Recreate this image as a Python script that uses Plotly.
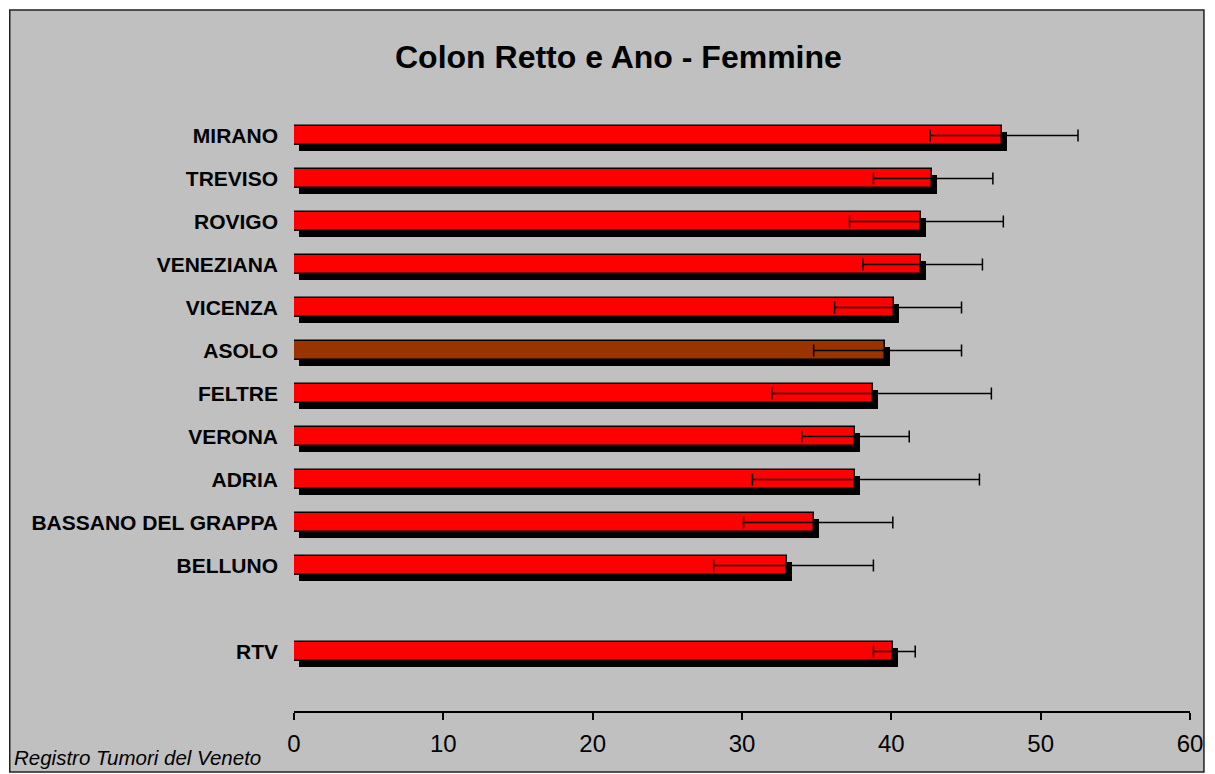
import plotly.graph_objects as go

categories = ["MIRANO", "TREVISO", "ROVIGO", "VENEZIANA", "VICENZA", "ASOLO",
              "FELTRE", "VERONA", "ADRIA", "BASSANO DEL GRAPPA", "BELLUNO", "RTV"]
rate    = [47.4, 42.7, 42.0, 42.0, 40.2, 39.6, 38.8, 37.6, 37.6, 34.8, 33.0, 40.1]
ci_low  = [42.6, 38.8, 37.2, 38.1, 36.2, 34.8, 32.0, 34.0, 30.7, 30.1, 28.1, 38.8]
ci_high = [52.5, 46.8, 47.5, 46.1, 44.7, 44.7, 46.7, 41.2, 45.9, 40.1, 38.8, 41.6]
highlight = "ASOLO"

# page offset (default body margin) and layout geometry in figure pixels
OFF = 8
W, H = 1215 - OFF, 774 - OFF
L = 294 - OFF
R = W - L - 899
T = 114 - OFF
B = H - (711 - OFF)
pw, ph = W - L - R, H - T - B
xmax = 60

# category positions: one blank slot before the regional total
pos = [i if c != "RTV" else i + 1 for i, c in enumerate(categories)]
px_x = pw / xmax
px_y = 43.0
ybottom = -0.5 + ph / px_y
dx = 5 / px_x
dy = 6 / px_y
bw = 19 / px_y

colors = ["#993300" if c == highlight else "#FF0000" for c in categories]

fig = go.Figure()
# shadow
fig.add_trace(go.Bar(
    x=rate, y=[p + dy for p in pos], base=dx, orientation="h",
    width=bw, marker=dict(color="black", line=dict(width=0)),
    hoverinfo="skip", showlegend=False))
# main bars
fig.add_trace(go.Bar(
    x=rate, y=pos, orientation="h", width=bw,
    marker=dict(color=colors, line=dict(color="black", width=1.5)),
    error_x=dict(type="data", symmetric=False,
                 array=[h - v for h, v in zip(ci_high, rate)],
                 arrayminus=[v - l for v, l in zip(rate, ci_low)],
                 color="black", thickness=1.5, width=6),
    showlegend=False))

def fx(page_px):
    return (page_px - OFF - L) / pw

def fy(page_py):
    return (H - B - (page_py - OFF)) / ph

fig.add_shape(type="rect", xref="paper", yref="paper",
              x0=fx(8.8), x1=fx(1207), y0=fy(772), y1=fy(10),
              fillcolor="#C0C0C0", line=dict(color="#222222", width=1.5),
              layer="below")

fig.add_annotation(text="<b>Colon Retto e Ano - Femmine</b>", xref="paper", yref="paper",
                   x=fx(620), y=fy(57), xanchor="center", yanchor="middle",
                   showarrow=False, font=dict(family="Liberation Sans, Arial", size=32, color="black"))
fig.add_annotation(text="<i>Registro Tumori del Veneto</i>", xref="paper", yref="paper",
                   x=fx(11), y=fy(757), xanchor="left", yanchor="middle",
                   showarrow=False, font=dict(family="Liberation Sans, Arial", size=20.5, color="black"))

fig.update_layout(
    width=W, height=H, autosize=False,
    margin=dict(l=L, r=R, t=T, b=B, pad=0),
    paper_bgcolor="white", plot_bgcolor="rgba(0,0,0,0)",
    barmode="overlay", bargap=0,
    font=dict(family="Liberation Sans, Arial", color="black"),
)
fig.update_xaxes(range=[0, xmax], dtick=10, showgrid=False, zeroline=False,
                 showline=True, linecolor="black", linewidth=1.5,
                 ticks="outside", ticklen=7, tickwidth=1.5, tickcolor="black",
                 tickfont=dict(size=24, family="Liberation Sans, Arial", color="black"),
                 ticklabelstandoff=3)
fig.update_yaxes(range=[ybottom, -0.5], tickvals=pos, ticktext=categories,
                 showgrid=False, zeroline=False, showline=False, ticks="",
                 tickfont=dict(size=21, family="Liberation Sans, Arial", color="black", weight="bold"),
                 ticklabelstandoff=15)

fig.write_html("out.html")
